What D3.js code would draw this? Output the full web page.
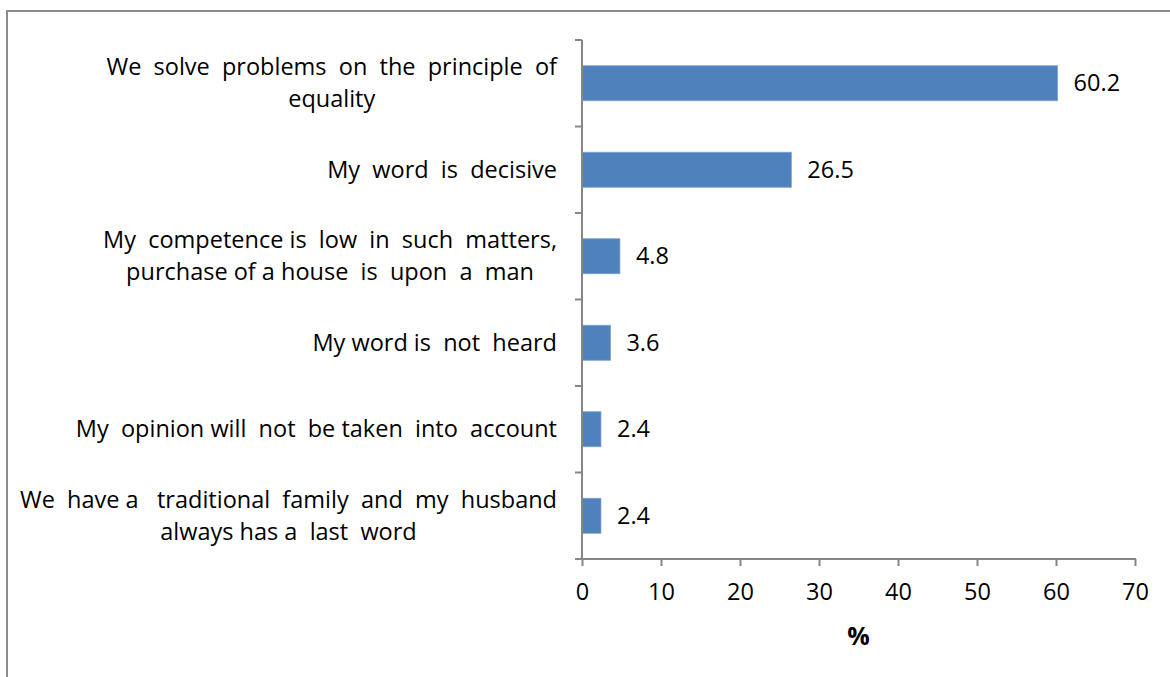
<!DOCTYPE html>
<html>
<head>
<meta charset="utf-8">
<script src="https://cdn.jsdelivr.net/npm/d3@7/dist/d3.min.js"></script>
<style>
  html, body { margin: 0; padding: 0; background: #ffffff; }
  svg { display: block; }
  text { white-space: pre; font-family: "Open Sans", sans-serif; fill: #000; }
</style>
</head>
<body>
<svg id="chart" width="1170" height="677"></svg>
<script>
// ---- data ----
const categories = [
  "We  solve  problems  on  the  principle  of\nequality",
  "My  word  is  decisive",
  "My  competence is  low  in  such  matters,\npurchase of a house  is  upon  a  man",
  "My word is  not  heard",
  "My  opinion will  not  be taken  into  account",
  "We  have a   traditional  family  and  my  husband\nalways has a  last  word"
];
const values = [60.2, 26.5, 4.8, 3.6, 2.4, 2.4];
const xTicks = [0, 10, 20, 30, 40, 50, 60, 70];
const xTitle = "%";

// ---- layout ----
const W = 1170, H = 677;
const plot = { left: 582, right: 1135, top: 40, bottom: 559 };
const fontSize = 23.5;
const axisColor = "#868686";
const barColor = "#4F81BD";

const svg = d3.select("#chart");

// frame (left and top edges visible; extends beyond the viewport)
svg.append("rect")
  .attr("x", 7).attr("y", 11)
  .attr("width", W + 20).attr("height", H + 20)
  .attr("fill", "none")
  .attr("stroke", "#8c8c8c")
  .attr("stroke-width", 2);

const x = d3.scaleLinear().domain([0, 70]).range([plot.left, plot.right]);
const y = d3.scaleBand()
  .domain(d3.range(categories.length))
  .range([plot.top, plot.bottom])
  .paddingInner(0.595)
  .paddingOuter(0.2975);

// bars
svg.append("g").selectAll("rect")
  .data(values)
  .join("rect")
  .attr("x", x(0))
  .attr("y", (d, i) => y(i))
  .attr("width", d => x(d) - x(0))
  .attr("height", y.bandwidth())
  .attr("fill", barColor)
  .attr("stroke", "#7ea3d0")
  .attr("stroke-width", 0.8);

// x axis
const xAxis = d3.axisBottom(x).tickValues(xTicks).tickSize(7).tickPadding(17).tickSizeOuter(0);
const gx = svg.append("g")
  .attr("transform", `translate(0,${plot.bottom})`)
  .call(xAxis);
gx.select(".domain").remove();
gx.selectAll(".tick line").attr("stroke", axisColor).attr("stroke-width", 2);
gx.selectAll(".tick text")
  .attr("font-family", "Open Sans, sans-serif")
  .attr("font-size", fontSize)
  .attr("fill", "#000");
svg.append("line")
  .attr("x1", plot.left - 7).attr("x2", plot.right + 1)
  .attr("y1", plot.bottom).attr("y2", plot.bottom)
  .attr("stroke", axisColor).attr("stroke-width", 2);

// y axis line + ticks at band boundaries
svg.append("line")
  .attr("x1", plot.left).attr("x2", plot.left)
  .attr("y1", plot.top).attr("y2", plot.bottom)
  .attr("stroke", axisColor).attr("stroke-width", 2);
const step = y.step();
const boundaries = d3.range(categories.length + 1).map(i => y(0) - y.paddingOuter() * step + i * step);
svg.append("g").selectAll("line")
  .data(boundaries)
  .join("line")
  .attr("x1", plot.left - 7).attr("x2", plot.left)
  .attr("y1", d => d).attr("y2", d => d)
  .attr("stroke", axisColor).attr("stroke-width", 2);

// category labels: right-aligned box, lines centered inside
const labelRight = 557;
const lineH = 32;
const gl = svg.append("g");
categories.forEach((c, i) => {
  const lines = c.split("\n");
  const cy = y(i) + y.bandwidth() / 2;
  const t = gl.append("text")
    .attr("font-size", fontSize)
    .attr("text-anchor", "middle");
  lines.forEach((ln, k) => {
    t.append("tspan")
      .attr("y", cy + (k - (lines.length - 1) / 2) * lineH)
      .attr("dy", "0.35em")
      .text(ln);
  });
  let maxW = 0;
  t.selectAll("tspan").each(function() {
    maxW = Math.max(maxW, this.getComputedTextLength());
  });
  t.selectAll("tspan").attr("x", labelRight - maxW / 2);
});

// value labels
svg.append("g").selectAll("text")
  .data(values)
  .join("text")
  .attr("x", d => x(d) + 16)
  .attr("y", (d, i) => y(i) + y.bandwidth() / 2)
  .attr("dy", "0.35em")
  .attr("font-size", fontSize)
  .text(d => d.toFixed(1));

// x title
svg.append("text")
  .attr("x", (plot.left + plot.right) / 2)
  .attr("y", 645)
  .attr("text-anchor", "middle")
  .attr("font-size", 25)
  .attr("font-weight", "bold")
  .text(xTitle);
</script>
</body>
</html>
